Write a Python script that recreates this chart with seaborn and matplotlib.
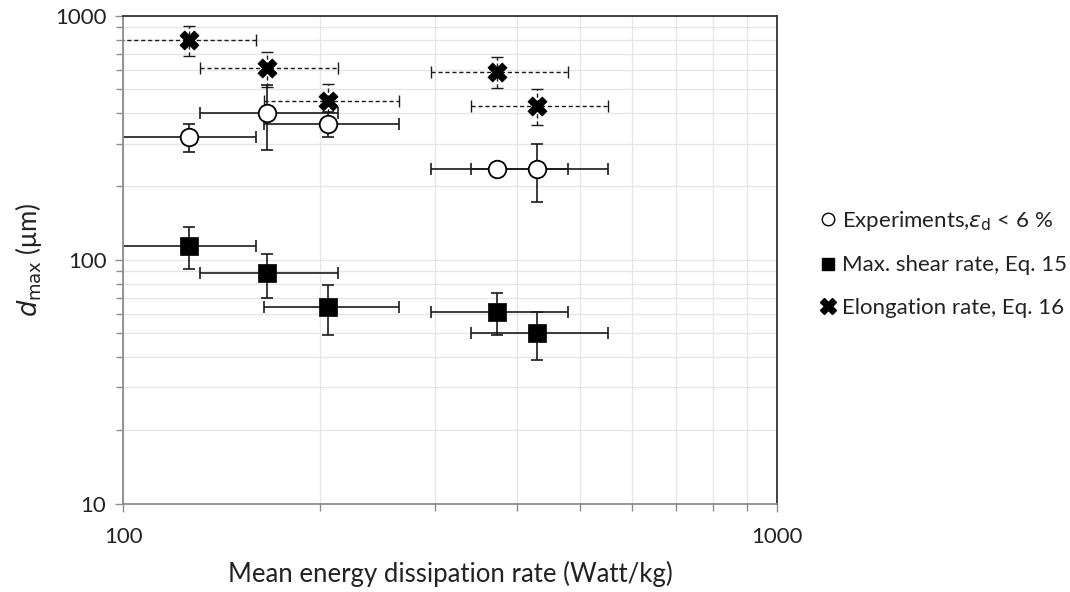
import numpy as np
import pandas as pd
import matplotlib
matplotlib.use("Agg")
import matplotlib.pyplot as plt
from matplotlib.lines import Line2D
from matplotlib.ticker import LogLocator, NullFormatter, FixedLocator, FixedFormatter
import seaborn as sns

# Mean energy dissipation rate (Watt/kg) with asymmetric spread
energy = [126, 166, 206, 373, 429]
energy_err_lo = [34, 35, 42, 77, 89]
energy_err_hi = [34, 47, 58, 106, 123]

# Experiments, eps_d < 6 %
exp_d = [320, 402, 362, 236, 236]
exp_err = [42, 120, 43, 0, 64]

# Max. shear rate, Eq. 15
shear_d = [114, 88, 64, 61, 50]
shear_err = [22, 18, 15, 12, 11]

# Elongation rate, Eq. 16
elong_d = [798, 610, 449, 591, 428]
elong_err = [115, 100, 75, 86, 72]

series_labels = [r"Experiments,$\varepsilon_{\mathrm{d}}$ < 6 %",
                 "Max. shear rate, Eq. 15",
                 "Elongation rate, Eq. 16"]

sns.set_theme(style="white")
plt.rcParams["font.family"] = ["Lato", "DejaVu Sans"]
plt.rcParams["mathtext.fontset"] = "dejavusans"

fig = plt.figure(figsize=(10.70, 5.92), dpi=100)
ax = fig.add_axes([0.115, 0.149, 0.611, 0.824])
ax.set_xscale("log")
ax.set_yscale("log")
ax.set_xlim(100, 1000)
ax.set_ylim(10, 1000)

xerr = np.array([energy_err_lo, energy_err_hi])

# Error bars drawn beneath the markers
ax.errorbar(energy, shear_d, yerr=shear_err, xerr=xerr, fmt="none",
            ecolor="#1a1a1a", elinewidth=1.2, capsize=4, capthick=1.2, zorder=2)
ax.errorbar(energy, exp_d, yerr=exp_err, xerr=xerr, fmt="none",
            ecolor="#1a1a1a", elinewidth=1.2, capsize=4, capthick=1.2, zorder=2)
eb = ax.errorbar(energy, elong_d, yerr=elong_err, xerr=xerr, fmt="none",
                 ecolor="#1a1a1a", elinewidth=1.0, capsize=4, capthick=1.0, zorder=2)
for lc in eb[2]:
    lc.set_linestyle((0, (3, 2)))

df = pd.DataFrame({
    "energy": energy * 3,
    "d": exp_d + shear_d + elong_d,
    "series": [series_labels[0]] * 5 + [series_labels[1]] * 5 + [series_labels[2]] * 5,
})
sns.scatterplot(data=df[df.series == series_labels[0]], x="energy", y="d", marker="o",
                s=160, facecolor="white", edgecolor="black", linewidth=1.3,
                ax=ax, zorder=4, legend=False)
sns.scatterplot(data=df[df.series == series_labels[1]], x="energy", y="d", marker="s",
                s=150, color="black", edgecolor="black", linewidth=0.5,
                ax=ax, zorder=4, legend=False)
sns.scatterplot(data=df[df.series == series_labels[2]], x="energy", y="d", marker="X",
                s=190, color="black", edgecolor="black", linewidth=0.5,
                ax=ax, zorder=4, legend=False)

# Gridlines, ticks and frame
ax.xaxis.set_major_locator(FixedLocator([100, 1000]))
ax.xaxis.set_major_formatter(FixedFormatter(["100", "1000"]))
ax.yaxis.set_major_locator(FixedLocator([10, 100, 1000]))
ax.yaxis.set_major_formatter(FixedFormatter(["10", "100", "1000"]))
ax.xaxis.set_minor_locator(LogLocator(base=10, subs=np.arange(2, 10)))
ax.yaxis.set_minor_locator(LogLocator(base=10, subs=np.arange(2, 10)))
ax.xaxis.set_minor_formatter(NullFormatter())
ax.yaxis.set_minor_formatter(NullFormatter())
ax.grid(True, which="both", color="#e6e6e6", linewidth=1.0, zorder=0)
ax.set_axisbelow(True)
ax.tick_params(which="both", direction="out", color="#8c8c8c", width=1.0,
               bottom=True, left=True, top=False, right=False)
ax.tick_params(which="major", length=6, labelsize=16, labelcolor="#222222", pad=6)
ax.tick_params(axis="x", which="major", pad=11)
ax.tick_params(which="minor", length=5)
for side in ("left", "bottom"):
    ax.spines[side].set_color("#8c8c8c")
    ax.spines[side].set_linewidth(1.3)
for side in ("top", "right"):
    ax.spines[side].set_color("#333333")
    ax.spines[side].set_linewidth(1.3)

ax.set_xlabel("Mean energy dissipation rate (Watt/kg)", fontsize=18.5, color="#222222", labelpad=10)
ax.set_ylabel(r"$d_{\mathrm{max}}$ (μm)", fontsize=18.5, color="#222222", labelpad=8)

handles = [
    Line2D([], [], linestyle="none", marker="o", markersize=9, markerfacecolor="white",
           markeredgecolor="black", markeredgewidth=1.0),
    Line2D([], [], linestyle="none", marker="s", markersize=9, color="black"),
    Line2D([], [], linestyle="none", marker="X", markersize=11, color="black"),
]
fig.legend(handles, series_labels, loc="center left", bbox_to_anchor=(0.745, 0.555),
           frameon=False, fontsize=16, handletextpad=0.1, labelspacing=1.0,
           handlelength=1.0, labelcolor="#222222")

fig.savefig("out.png", dpi=100, facecolor="white")
